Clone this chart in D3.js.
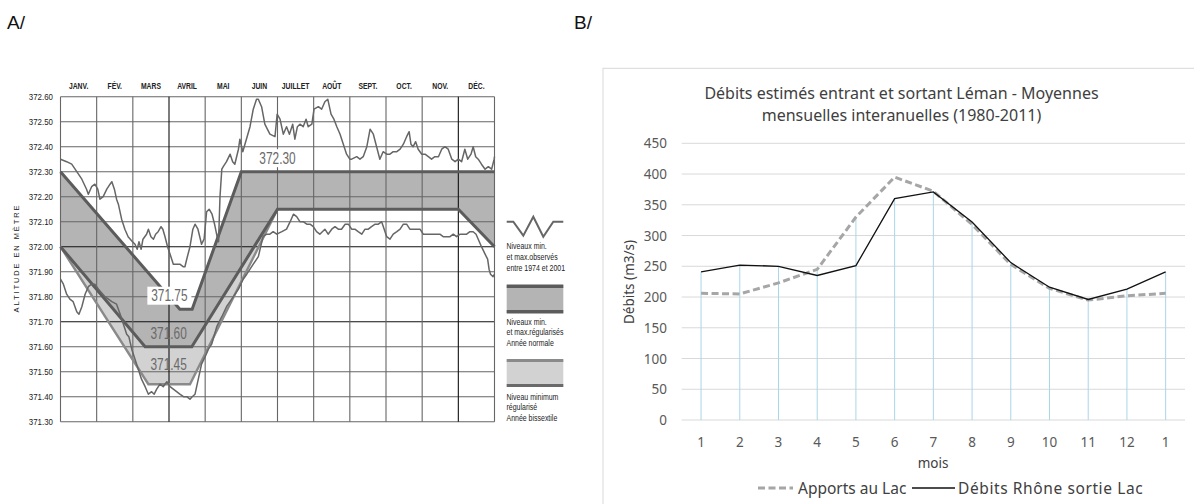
<!DOCTYPE html>
<html><head><meta charset="utf-8">
<script src="https://cdn.jsdelivr.net/npm/d3@7"></script>
<style>body{margin:0;background:#fff}svg{display:block}</style>
</head><body>
<svg id="c" width="1194" height="504"></svg>
<script>
// ---------- Panel A data ----------
const monthsA = ["JANV.","FÉV.","MARS","AVRIL","MAI","JUIN","JUILLET","AOÛT","SEPT.","OCT.","NOV.","DÉC."];
const altTicks = [372.60,372.50,372.40,372.30,372.20,372.10,372.00,371.90,371.80,371.70,371.60,371.50,371.40,371.30];
const darkHLines = [372.00, 371.70];
const darkVLines = [3, 11];
const normalMax = [[0,372.30],[3.30,371.75],[3.64,371.75],[5.0,372.30],[12,372.30]];
const normalMin = [[0,372.00],[2.34,371.60],[3.63,371.60],[6.0,372.15],[11.0,372.15],[12,372.00]];
const leapMin = [[0,372.00],[2.43,371.45],[3.58,371.45],[6.0,372.15]];
const obsMax = [[0.00,372.35],[0.17,372.34],[0.31,372.33],[0.45,372.30],[0.59,372.27],[0.72,372.23],[0.77,372.21],[0.86,372.24],[0.95,372.25],[1.03,372.23],[1.09,372.19],[1.18,372.20],[1.28,372.23],[1.37,372.25],[1.42,372.26],[1.49,372.23],[1.55,372.19],[1.60,372.17],[1.69,372.11],[1.78,372.07],[1.87,372.04],[1.99,372.02],[2.06,372.01],[2.12,371.99],[2.17,372.02],[2.23,371.99],[2.28,372.03],[2.38,372.05],[2.43,372.07],[2.50,372.04],[2.57,372.03],[2.63,372.05],[2.70,372.06],[2.78,372.08],[2.83,372.07],[2.89,372.04],[2.96,372.00],[3.03,371.97],[3.12,371.93],[3.21,371.93],[3.30,371.93],[3.39,371.92],[3.44,371.92],[3.49,371.95],[3.58,372.00],[3.66,372.07],[3.72,372.09],[3.80,372.07],[3.90,372.01],[3.97,372.03],[4.04,372.14],[4.11,372.15],[4.19,372.13],[4.26,372.09],[4.33,372.04],[4.37,372.02],[4.41,372.20],[4.46,372.31],[4.50,372.32],[4.59,372.34],[4.69,372.37],[4.76,372.34],[4.82,372.33],[4.92,372.39],[4.96,372.43],[5.04,372.38],[5.10,372.41],[5.24,372.48],[5.33,372.55],[5.42,372.59],[5.47,372.59],[5.56,372.56],[5.65,372.49],[5.79,372.45],[5.93,372.44],[5.99,372.53],[6.07,372.51],[6.16,372.45],[6.25,372.48],[6.33,372.45],[6.42,372.49],[6.48,372.43],[6.55,372.48],[6.62,372.49],[6.71,372.48],[6.79,372.51],[6.85,372.48],[6.95,372.49],[7.01,372.55],[7.13,372.56],[7.22,372.55],[7.31,372.58],[7.39,372.59],[7.48,372.53],[7.56,372.51],[7.64,372.48],[7.73,372.45],[7.82,372.41],[7.91,372.37],[8.00,372.35],[8.05,372.35],[8.19,372.36],[8.28,372.35],[8.37,372.36],[8.47,372.40],[8.56,372.47],[8.65,372.45],[8.74,372.40],[8.83,372.35],[8.92,372.38],[9.02,372.37],[9.11,372.37],[9.20,372.38],[9.30,372.38],[9.39,372.39],[9.48,372.41],[9.57,372.44],[9.64,372.46],[9.69,372.41],[9.75,372.40],[9.82,372.42],[9.89,372.39],[9.99,372.37],[10.08,372.37],[10.17,372.36],[10.26,372.35],[10.35,372.36],[10.45,372.36],[10.54,372.39],[10.63,372.40],[10.72,372.39],[10.82,372.35],[10.91,372.34],[11.00,372.35],[11.09,372.34],[11.18,372.39],[11.26,372.35],[11.35,372.37],[11.41,372.40],[11.48,372.36],[11.55,372.35],[11.64,372.33],[11.74,372.31],[11.83,372.32],[11.92,372.31],[11.99,372.35],[12.00,372.36]];
const obsMin = [[0.00,371.87],[0.08,371.85],[0.17,371.81],[0.26,371.79],[0.35,371.78],[0.45,371.74],[0.51,371.73],[0.59,371.76],[0.68,371.81],[0.77,371.84],[0.86,371.85],[0.95,371.85],[1.05,371.83],[1.23,371.80],[1.42,371.78],[1.55,371.77],[1.65,371.73],[1.74,371.69],[1.83,371.65],[1.89,371.64],[1.97,371.59],[2.06,371.55],[2.15,371.51],[2.24,371.47],[2.34,371.44],[2.43,371.41],[2.52,371.42],[2.59,371.41],[2.66,371.43],[2.75,371.45],[2.84,371.44],[2.94,371.46],[3.03,371.44],[3.12,371.43],[3.21,371.42],[3.30,371.41],[3.40,371.40],[3.49,371.40],[3.58,371.39],[3.64,371.40],[3.72,371.41],[3.81,371.47],[3.90,371.53],[4.00,371.56],[4.09,371.59],[4.18,371.61],[4.32,371.68],[4.46,371.72],[4.59,371.76],[4.78,371.80],[4.92,371.83],[5.05,371.87],[5.15,371.89],[5.24,371.91],[5.33,371.93],[5.47,371.96],[5.60,372.04],[5.70,372.05],[5.79,372.05],[5.88,372.06],[5.98,372.05],[6.12,372.06],[6.25,372.07],[6.35,372.10],[6.44,372.13],[6.53,372.12],[6.62,372.10],[6.71,372.10],[6.81,372.09],[6.90,372.09],[6.99,372.08],[7.08,372.06],[7.17,372.05],[7.31,372.07],[7.40,372.05],[7.50,372.07],[7.59,372.08],[7.68,372.07],[7.77,372.07],[7.87,372.09],[7.96,372.09],[8.05,372.07],[8.14,372.07],[8.23,372.06],[8.33,372.05],[8.42,372.07],[8.51,372.07],[8.60,372.08],[8.70,372.09],[8.79,372.09],[8.88,372.10],[8.95,372.07],[9.02,372.04],[9.11,372.03],[9.20,372.05],[9.30,372.06],[9.39,372.07],[9.48,372.09],[9.57,372.09],[9.66,372.07],[9.75,372.07],[9.85,372.07],[9.94,372.07],[10.03,372.05],[10.12,372.05],[10.22,372.05],[10.31,372.05],[10.40,372.05],[10.49,372.05],[10.58,372.04],[10.68,372.04],[10.77,372.04],[10.86,372.05],[10.95,372.04],[11.05,372.05],[11.14,372.05],[11.23,372.05],[11.32,372.06],[11.41,372.06],[11.49,372.05],[11.55,372.03],[11.64,372.00],[11.74,371.97],[11.81,371.95],[11.85,371.91],[11.89,371.89],[11.96,371.88],[12.00,371.89]];
const levelLabels = [{t:"372.30",m:6.0,v:372.354,box:true},{t:"371.75",m:3.01,v:371.804,box:true},{t:"371.60",m:2.99,v:371.654},{t:"371.45",m:2.99,v:371.531}];
const legendA = [
  ["Niveaux min.","et max.observés","entre 1974 et 2001"],
  ["Niveaux min.","et max.régularisés","Année normale"],
  ["Niveau minimum","régularisé","Année bissextile"]
];

// ---------- Panel B data ----------
const moisLabels = ["1","2","3","4","5","6","7","8","9","10","11","12","1"];
const apports = [206,205,223,245,330,395,372,318,253,214,195,202,206];
const rhone = [241,252,250,235,251,360,371,322,256,216,196,213,241];
const dropTop = [241,252,250,245,330,360,371,321,255,216,196,213,241];
const debitTicks = [0,50,100,150,200,250,300,350,400,450];

const svg = d3.select("#c");
const fA = "'Liberation Sans', Arial, sans-serif";
const fB = "'Noto Sans', 'Open Sans', sans-serif";

function ctext(g, x, y, str, o){
  const t = g.append("text")
    .attr("transform", `translate(${x},${y}) scale(${o.sx||1},1)`)
    .attr("text-anchor", o.anchor||"start")
    .attr("dominant-baseline", o.db||"auto")
    .style("font-family", o.ff||fA)
    .style("font-size", (o.fs||9)+"px")
    .style("font-weight", o.fw||"normal")
    .attr("fill", o.fill||"#222")
    .text(str);
  return t;
}

svg.append("text").attr("x",7).attr("y",29).style("font-family",fA).style("font-size","19px").attr("fill","#111").text("A/");
svg.append("text").attr("x",574).attr("y",29).style("font-family",fA).style("font-size","19px").attr("fill","#111").text("B/");

// ================= Panel A =================
const gA = svg.append("g");
const xA = d3.scaleLinear().domain([0,12]).range([60.5,494.5]);
const yA = d3.scaleLinear().domain([371.30,372.60]).range([421.7,96.7]);
const lineA = d3.line().x(d=>xA(d[0])).y(d=>yA(d[1]));

// bands
const normalBand = normalMax.concat(normalMin.slice().reverse());
gA.append("path").attr("d", lineA(normalBand)+"Z").attr("fill","#b4b4b4");
const leapBand = normalMin.filter(d=>d[0]<=6).concat(leapMin.slice().reverse());
gA.append("path").attr("d", lineA(leapBand)+"Z").attr("fill","#d2d2d2");

// grid
altTicks.forEach(v=>{
  gA.append("line").attr("x1",xA(0)).attr("x2",xA(12)).attr("y1",yA(v)).attr("y2",yA(v))
    .attr("stroke", darkHLines.includes(v)?"#111":"#666").attr("stroke-width",1.1);
});
d3.range(0,13).forEach(m=>{
  gA.append("line").attr("x1",xA(m)).attr("x2",xA(m)).attr("y1",yA(372.60)).attr("y2",yA(371.30))
    .attr("stroke", darkVLines.includes(m)?"#111":"#666").attr("stroke-width",1.1);
});

// band edge lines
gA.append("path").attr("d",lineA(leapMin)).attr("fill","none").attr("stroke","#8a8a8a").attr("stroke-width",2.4);
gA.append("path").attr("d",lineA(normalMin)).attr("fill","none").attr("stroke","#5c5c5c").attr("stroke-width",3);
gA.append("path").attr("d",lineA(normalMax)).attr("fill","none").attr("stroke","#5c5c5c").attr("stroke-width",3);

// observed
[obsMax, obsMin].forEach(s=>{
  gA.append("path").attr("d",lineA(s)).attr("fill","none").attr("stroke","#666").attr("stroke-width",1.5).attr("stroke-linejoin","round");
});

// level labels
levelLabels.forEach(L=>{
  const cx = xA(L.m), cy = yA(L.v);
  if(L.box){
    gA.append("rect").attr("x",cx-22).attr("y",cy-9).attr("width",44).attr("height",18).attr("fill","#fff");
  }
  ctext(gA, cx, cy, L.t, {anchor:"middle", db:"central", fs:16.5, sx:0.72, fill:"#6a6a6a"});
});

// month labels
monthsA.forEach((mo,i)=>{
  ctext(gA, xA(i+0.5), 86, mo, {anchor:"middle", db:"central", fs:8.5, fw:"bold", sx:0.8, fill:"#222"});
});
// y labels
altTicks.forEach(v=>{
  ctext(gA, 53, yA(v), d3.format(".2f")(v), {anchor:"end", db:"central", fs:9.3, sx:0.85, fill:"#222"});
});
// axis title
gA.append("text").attr("transform","translate(19,258) rotate(-90)").attr("text-anchor","middle")
  .style("font-family",fA).style("font-size","7.5px").style("letter-spacing","1.9px").attr("fill","#222")
  .text("ALTITUDE EN MÈTRE");

// legend A
const lg = gA.append("g");
const zig = [[0,0],[6.6,0],[16.6,14],[26.6,-5],[36.6,15],[46.6,0],[56.6,0]];
lg.append("path").attr("d", d3.line().x(d=>506.7+d[0]).y(d=>221.7+d[1])(zig))
  .attr("fill","none").attr("stroke","#666").attr("stroke-width",2);
lg.append("rect").attr("x",506.7).attr("y",285).attr("width",56.6).attr("height",28).attr("fill","#b4b4b4");
lg.append("rect").attr("x",506.7).attr("y",284.5).attr("width",56.6).attr("height",3.5).attr("fill","#5c5c5c");
lg.append("rect").attr("x",506.7).attr("y",310).attr("width",56.6).attr("height",3.5).attr("fill","#5c5c5c");
lg.append("rect").attr("x",506.7).attr("y",359.5).attr("width",56.6).attr("height",27).attr("fill","#d2d2d2");
lg.append("rect").attr("x",506.7).attr("y",359).attr("width",56.6).attr("height",3).attr("fill","#8a8a8a");
lg.append("rect").attr("x",506.7).attr("y",384).attr("width",56.6).attr("height",3).attr("fill","#6a6a6a");
const legY = [246.5, 322, 397];
legendA.forEach((lines,k)=>{
  lines.forEach((s,j)=>{
    ctext(lg, 506.5, legY[k]+j*10.6, s, {fs:9.3, sx:0.75, db:"central", fill:"#222"});
  });
});

// ================= Panel B =================
const gB = svg.append("g");
gB.append("rect").attr("x",603).attr("y",68.3).attr("width",620).attr("height",460)
  .attr("fill","none").attr("stroke","#d9d9d9").attr("stroke-width",1);
const xB = d3.scaleBand().domain(d3.range(moisLabels.length)).range([681.7,1185]);
const cxB = i => xB(i)+xB.bandwidth()/2;
const yB = d3.scaleLinear().domain([0,450]).range([420,143.3]);

debitTicks.forEach(v=>{
  gB.append("line").attr("x1",681.7).attr("x2",1185).attr("y1",yB(v)).attr("y2",yB(v))
    .attr("stroke","#d9d9d9").attr("stroke-width",1);
  gB.append("text").attr("x",667).attr("y",yB(v)).attr("text-anchor","end").attr("dominant-baseline","central")
    .style("font-family",fB).style("font-size","13.5px").attr("fill","#595959").text(v);
});
// drop lines
dropTop.forEach((v,i)=>{
  gB.append("line").attr("x1",cxB(i)).attr("x2",cxB(i)).attr("y1",yB(0)).attr("y2",yB(v))
    .attr("stroke","#a9d6ea").attr("stroke-width",1);
});
moisLabels.forEach((m,i)=>{
  gB.append("text").attr("x",cxB(i)).attr("y",441.7).attr("text-anchor","middle").attr("dominant-baseline","central")
    .style("font-family",fB).style("font-size","13.5px").attr("fill","#595959").text(m);
});
const lineB = d3.line().x((d,i)=>cxB(i)).y(d=>yB(d));
gB.append("path").attr("d",lineB(apports)).attr("fill","none").attr("stroke","#a6a6a6")
  .attr("stroke-width",3).attr("stroke-dasharray","7,3.5");
gB.append("path").attr("d",lineB(rhone)).attr("fill","none").attr("stroke","#111").attr("stroke-width",1.3);

gB.append("text").attr("x",933).attr("y",463).attr("text-anchor","middle").attr("dominant-baseline","central")
  .style("font-family",fB).style("font-size","13.5px").attr("fill","#404040").text("mois");
gB.append("text").attr("transform","translate(629,282) rotate(-90)").attr("text-anchor","middle").attr("dominant-baseline","central")
  .style("font-family",fB).style("font-size","13.5px").attr("fill","#404040").text("Débits (m3/s)");
gB.append("text").attr("x",901.5).attr("y",93).attr("text-anchor","middle").attr("dominant-baseline","central")
  .style("font-family",fB).style("font-size","16px").attr("fill","#404040").text("Débits estimés entrant et sortant Léman - Moyennes");
gB.append("text").attr("x",901.5).attr("y",115).attr("text-anchor","middle").attr("dominant-baseline","central")
  .style("font-family",fB).style("font-size","16px").attr("fill","#404040").text("mensuelles interanuelles (1980-2011)");
// legend B
gB.append("line").attr("x1",758).attr("x2",793).attr("y1",488).attr("y2",488).attr("stroke","#a6a6a6").attr("stroke-width",3).attr("stroke-dasharray","7,3.5");
gB.append("text").attr("x",798).attr("y",488).attr("dominant-baseline","central").style("font-family",fB).style("font-size","15.5px").attr("fill","#404040").text("Apports au Lac");
gB.append("line").attr("x1",912).attr("x2",955).attr("y1",488).attr("y2",488).attr("stroke","#111").attr("stroke-width",1.3);
gB.append("text").attr("x",958).attr("y",488).attr("dominant-baseline","central").style("font-family",fB).style("font-size","15.5px")
  .style("letter-spacing","0.6px").attr("fill","#404040").text("Débits Rhône sortie Lac");
</script>
</body></html>
